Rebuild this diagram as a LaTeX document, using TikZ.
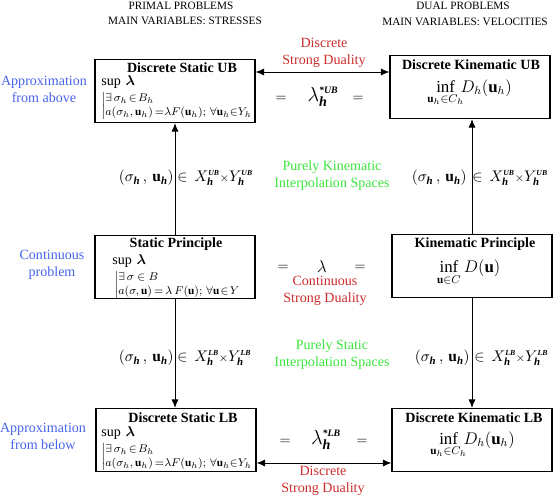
\documentclass[tikz,border=0pt]{standalone}
\usepackage{amsmath,bm,mathtools}
\usepackage{fontspec}
\setmainfont{Liberation Serif}
\usetikzlibrary{arrows.meta}

\definecolor{approxblue}{RGB}{72,100,232}
\definecolor{dualred}{RGB}{205,45,45}
\definecolor{interpgreen}{RGB}{60,230,60}

\newcommand{\bi}[1]{\text{\bfseries\itshape #1}}
\newcommand{\bsup}[1]{{\scriptscriptstyle\bi{#1}}}

\begin{document}
\begin{tikzpicture}[x=0.025cm, y=-0.025cm, >={Latex[length=6pt,width=5pt]},
  every node/.style={font=\normalsize},
  box/.style={draw, thick, minimum width=4cm, minimum height=1.58cm},
  title/.style={font=\bfseries},
  cond/.style={anchor=west, font=\footnotesize, inner sep=0pt},
  head/.style={font=\footnotesize},
  side/.style={approxblue, align=center},
  duality/.style={dualred, align=center},
  interp/.style={interpgreen, align=center},
  space/.style={font=\fontsize{11pt}{13pt}\selectfont, inner sep=0pt}]

  \useasboundingbox (0,0) rectangle (557,498);

  % column headings
  \node[head] (primal)  at (181,6)  {PRIMAL PROBLEMS};
  \node[head] (primalv) at (185,21) {MAIN VARIABLES: STRESSES};
  \node[head] (dual)    at (463,6)  {DUAL PROBLEMS};
  \node[head] (dualv)   at (465,22) {MAIN VARIABLES: VELOCITIES};

  % the six problems
  \node[box] (sub) at (175,91)  {};
  \node[box] (kub) at (470,87)  {};
  \node[box] (sp)  at (175,267) {};
  \node[box] (kp)  at (472,266) {};
  \node[box] (slb) at (176,440) {};
  \node[box] (klb) at (472,440) {};

  % Discrete Static UB
  \node[title] (subt) at (182,68) {Discrete Static UB};
  \node[anchor=west, inner sep=0pt] (subs) at (101,82) {$\sup\,\bm{\lambda}$};
  \node[cond] (subc) at (101,106)
    {$\left|\begin{array}{@{}l@{}}\exists\,\sigma_h\!\in\! B_h\\ a(\sigma_h,\mathbf{u}_h)\,{=}\lambda F(\mathbf{u}_h);\,\forall\mathbf{u}_h{\in}Y_h\end{array}\right.$};

  % Discrete Kinematic UB
  \node[title] (kubt) at (471,65) {Discrete Kinematic UB};
  \node[font=\large] (kubi) at (474,93) {$\displaystyle\inf_{\mathclap{\mathbf{u}_h\in C_h}}\,D_h(\mathbf{u}_h)$};

  % Static Principle
  \node[title] (spt) at (176,244) {Static Principle};
  \node[anchor=west, inner sep=0pt] (sps) at (112,261) {$\sup\,\bm{\lambda}$};
  \node[cond] (spc) at (114,285)
    {$\left|\begin{array}{@{}l@{}}\exists\,\sigma\in B\\ a(\sigma,\mathbf{u})\,{=}\,\lambda\,F(\mathbf{u});\,\forall\mathbf{u}\!\in\! Y\end{array}\right.$};

  % Kinematic Principle
  \node[title] (kpt) at (475,244) {Kinematic Principle};
  \node[font=\large] (kpi) at (470,273) {$\displaystyle\inf_{\mathclap{\mathbf{u}\in C}}\,D(\mathbf{u})$};

  % Discrete Static LB
  \node[title] (slbt) at (183,418) {Discrete Static LB};
  \node[anchor=west, inner sep=0pt] (slbs) at (101,433) {$\sup\,\bm{\lambda}$};
  \node[cond] (slbc) at (101,457)
    {$\left|\begin{array}{@{}l@{}}\exists\,\sigma_h\!\in\! B_h\\ a(\sigma_h,\mathbf{u}_h)\,{=}\lambda F(\mathbf{u}_h);\,\forall\mathbf{u}_h{\in}Y_h\end{array}\right.$};

  % Discrete Kinematic LB
  \node[title] (klbt) at (474,418) {Discrete Kinematic LB};
  \node[font=\large] (klbi) at (477,445) {$\displaystyle\inf_{\mathclap{\mathbf{u}_h\in C_h}}\,D_h(\mathbf{u}_h)$};

  % connectors
  \coordinate (ubline) at (0,72);
  \coordinate (lbline) at (0,463);
  \draw[semithick, <->] (sub.east |- ubline) -- (kub.west |- ubline);
  \draw[semithick, <->] (slb.east |- lbline) -- (klb.west |- lbline);
  \draw[semithick, ->] (sp.north) -- (sp.north |- sub.south);
  \draw[semithick, ->] (kp.north) -- (kp.north |- kub.south);
  \draw[semithick, ->] (sp.south) -- (sp.south |- slb.north);
  \draw[semithick, ->] (kp.south) -- (kp.south |- klb.north);

  % duality labels and load factors
  \node[duality] (dsdu) at (324,53) {Discrete\\Strong Duality};
  \node[duality] (csd)  at (325,291) {Continuous\\Strong Duality};
  \node[duality] (dsdl) at (323,481) {Discrete\\Strong Duality};

  \node (equb1) at (281,99) {$=$};
  \node[font=\Large] (lamub) at (323,97) {$\lambda^{\bsup{*UB}}_{\bi{h}}$};
  \node (equb2) at (358,99) {$=$};
  \node (eq1) at (283,268) {$=$};
  \node[font=\large] (lam) at (322,267) {$\lambda$};
  \node (eq2) at (360,268) {$=$};
  \node (eqlb1) at (285,442) {$=$};
  \node[font=\Large] (lamlb) at (326,440) {$\lambda^{\bsup{*LB}}_{\bi{h}}$};
  \node (eqlb2) at (362,442) {$=$};

  % approximation labels
  \node[side] (above) at (44,89)  {Approximation\\from above};
  \node[side] (cont)  at (52,265) {Continuous\\problem};
  \node[side] (below) at (43,436) {Approximation\\from below};

  % interpolation spaces
  \node[interp] (kinsp) at (332,176) {Purely Kinematic\\Interpolation Spaces};
  \node[interp] (stasp) at (332,355) {Purely Static\\Interpolation Spaces};

  \node[space, anchor=east] (pairul) at (174,178) {$(\sigma_{\bi{h}}\,,\,\mathbf{u}_{\bi{h}})$};
  \node[space, anchor=west] (setul) at (177,178) {$\in\,X^{\bsup{UB}}_{\bi{h}}{\scriptstyle\times}Y^{\bsup{UB}}_{\bi{h}}$};
  \node[space, anchor=east] (pairur) at (467,178) {$(\sigma_{\bi{h}}\,,\,\mathbf{u}_{\bi{h}})$};
  \node[space, anchor=west] (setur) at (472,178) {$\in\,X^{\bsup{UB}}_{\bi{h}}{\scriptstyle\times}Y^{\bsup{UB}}_{\bi{h}}$};
  \node[space, anchor=east] (pairll) at (174,358) {$(\sigma_{\bi{h}}\,,\,\mathbf{u}_{\bi{h}})$};
  \node[space, anchor=west] (setll) at (177,358) {$\in\,X^{\bsup{LB}}_{\bi{h}}{\scriptstyle\times}Y^{\bsup{LB}}_{\bi{h}}$};
  \node[space, anchor=east] (pairlr) at (470,358) {$(\sigma_{\bi{h}}\,,\,\mathbf{u}_{\bi{h}})$};
  \node[space, anchor=west] (setlr) at (474,358) {$\in\,X^{\bsup{LB}}_{\bi{h}}{\scriptstyle\times}Y^{\bsup{LB}}_{\bi{h}}$};

\end{tikzpicture}
\end{document}
